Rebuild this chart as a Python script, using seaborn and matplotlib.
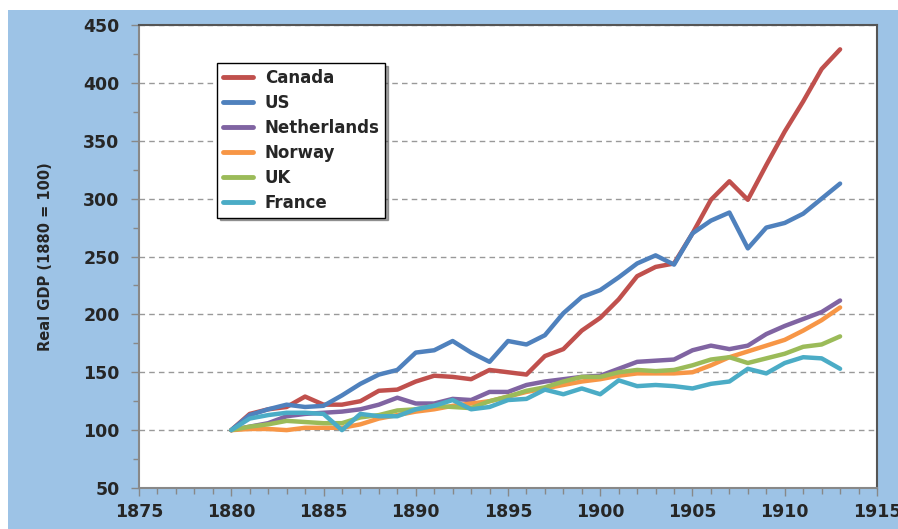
import numpy as np
import pandas as pd
import seaborn as sns
import matplotlib.pyplot as plt
from matplotlib.patches import Rectangle
from matplotlib.ticker import MultipleLocator

years = list(range(1880, 1914))

canada = [100, 114, 118, 120, 129, 122, 122, 125, 134, 135, 142, 147, 146, 144, 152, 150,
          148, 164, 170, 186, 197, 213, 233, 241, 244, 270, 299, 315, 299, 329, 358, 384, 412, 429]
us = [100, 113, 118, 122, 120, 121, 130, 140, 148, 152, 167, 169, 177, 167, 159, 177,
      174, 182, 201, 215, 221, 232, 244, 251, 243, 270, 281, 288, 257, 275, 279, 287, 300, 313]
netherlands = [100, 103, 106, 112, 114, 115, 116, 118, 122, 128, 123, 123, 127, 126, 133, 133,
               139, 142, 144, 146, 147, 153, 159, 160, 161, 169, 173, 170, 173, 183, 190, 196, 202, 212]
norway = [100, 101, 101, 100, 102, 102, 102, 105, 110, 113, 116, 118, 121, 123, 125, 129,
          133, 136, 139, 142, 144, 147, 149, 149, 149, 150, 156, 163, 168, 173, 178, 186, 195, 206]
uk = [100, 103, 105, 108, 107, 106, 106, 111, 113, 117, 118, 121, 120, 119, 125, 129,
      134, 137, 142, 146, 146, 150, 152, 151, 152, 156, 161, 163, 158, 162, 166, 172, 174, 181]
france = [100, 110, 113, 115, 115, 114, 100, 114, 112, 112, 118, 121, 126, 118, 120, 126,
          127, 135, 131, 136, 131, 143, 138, 139, 138, 136, 140, 142, 153, 149, 158, 163, 162, 153]

countries = ['Canada', 'US', 'Netherlands', 'Norway', 'UK', 'France']
colors = ['#C0504D', '#4F81BD', '#8064A2', '#F79646', '#9BBB59', '#4BACC6']

df = pd.DataFrame({'year': years, 'Canada': canada, 'US': us, 'Netherlands': netherlands,
                   'Norway': norway, 'UK': uk, 'France': france})
long_df = df.melt(id_vars='year', var_name='country', value_name='gdp')

sns.set_style('white')
plt.rcParams['font.family'] = ['DejaVu Sans']

fig = plt.figure(figsize=(8.98, 5.29), dpi=100)
# blue chart-area background behind the plot
fig.patches.append(Rectangle((8 / 898, 0), 1 - 8 / 898, 1 - 10 / 529,
                             transform=fig.transFigure, facecolor='#9DC3E6',
                             edgecolor='none', zorder=-10))
ax = fig.add_axes([0.1548, 0.0775, 0.8218, 0.8752])
ax.set_zorder(1)
ax.set_facecolor('white')

sns.lineplot(data=long_df, x='year', y='gdp', hue='country', hue_order=countries,
             palette=colors, linewidth=3.2, ax=ax, legend=True)

ax.set_xlim(1875, 1915)
ax.set_ylim(50, 450)
ax.xaxis.set_major_locator(MultipleLocator(5))
ax.xaxis.set_minor_locator(MultipleLocator(1))
ax.yaxis.set_major_locator(MultipleLocator(50))
ax.yaxis.set_minor_locator(MultipleLocator(25))
ax.tick_params(axis='both', which='major', direction='out', length=6, width=1,
               color='#888888', labelsize=12.5, pad=8, left=True, bottom=True)
ax.tick_params(axis='both', which='minor', direction='out', length=4, width=1,
               color='#888888', left=True, bottom=True)
ax.tick_params(axis='x', which='major', pad=5)
for lbl in ax.get_xticklabels() + ax.get_yticklabels():
    lbl.set_fontweight('bold')

ax.grid(axis='y', which='major', linestyle=(0, (4, 3)), color='#999999', linewidth=1)
ax.set_axisbelow(True)

for side in ['left', 'bottom']:
    ax.spines[side].set_color('#888888')
    ax.spines[side].set_linewidth(1.5)
for side in ['top', 'right']:
    ax.spines[side].set_color('#555555')
    ax.spines[side].set_linewidth(1.5)

ax.set_xlabel('')
ax.set_ylabel('Real GDP (1880 = 100)', fontsize=10.5, fontweight='bold', labelpad=22)

leg = ax.legend(loc='upper left', bbox_to_anchor=(0.106, 0.918), borderaxespad=0,
                frameon=True, fancybox=False, shadow=True, edgecolor='black',
                prop={'weight': 'bold', 'size': 12}, handlelength=1.8,
                labelspacing=0.42, borderpad=0.35, handletextpad=0.7)
leg.get_frame().set_linewidth(1)
for line in leg.get_lines():
    line.set_linewidth(3.5)

fig.savefig('out.png', dpi=100, facecolor='white')
